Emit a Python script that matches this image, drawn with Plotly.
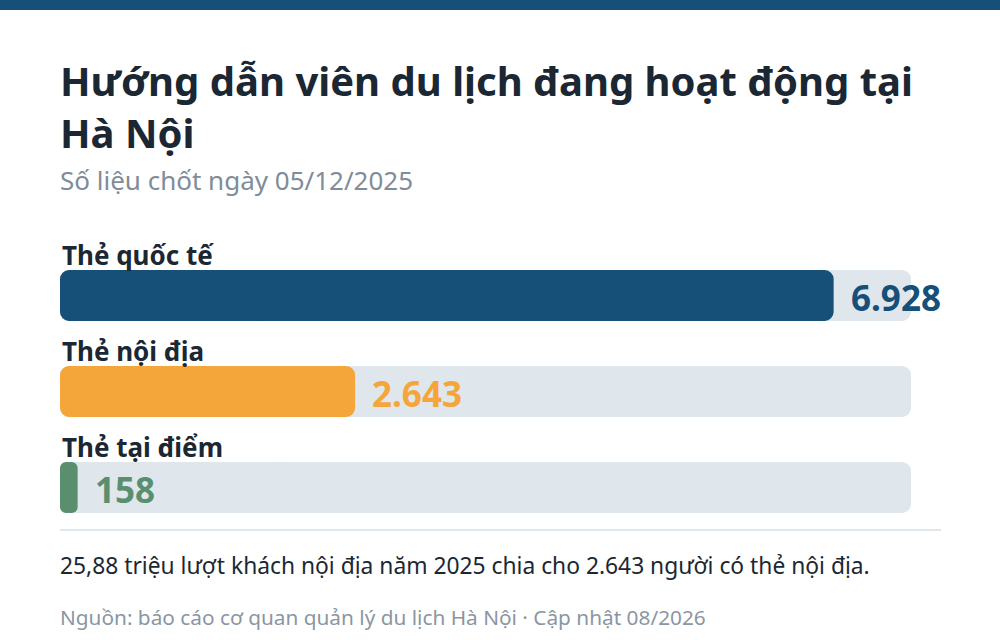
import plotly.graph_objects as go

# --------------------- data ---------------------------------------
categories = ['Thẻ quốc tế', 'Thẻ nội địa', 'Thẻ tại điểm']
values = [6928, 2643, 158]
value_labels = ['6.928', '2.643', '158']
bar_colors = ['#164f78', '#f4a63b', '#5a8f6e']

title_text = 'Hướng dẫn viên du lịch đang hoạt động tại<br>Hà Nội'
subtitle_text = 'Số liệu chốt ngày 05/12/2025'
note_text = '25,88 triệu lượt khách nội địa năm 2025 chia cho 2.643 người có thẻ nội địa.'
source_text = 'Nguồn: báo cáo cơ quan quản lý du lịch Hà Nội · Cập nhật 08/2026'

W, H = 1000, 640
FONT = 'Noto Sans'
track_max = max(values) * 1.1
BAR_W = 0.53
RADIUS = 9


def py(px):
    # pixel from top -> paper y
    return 1 - px / H


def px_x(px):
    return px / W


def rounded_bar(vals, color, hover):
    # plotly only rounds the far end of a bar, so each bar is drawn as two
    # overlapping pieces: one growing left (rounded left end), one growing right
    left = go.Bar(y=categories, x=[-0.75 * v for v in vals], base=[0.75 * v for v in vals],
                  orientation='h', marker=dict(color=color, cornerradius=RADIUS, line=dict(width=0)),
                  width=BAR_W, hoverinfo='skip')
    right = go.Bar(y=categories, x=[0.75 * v for v in vals], base=[0.25 * v for v in vals],
                   orientation='h', marker=dict(color=color, cornerradius=RADIUS, line=dict(width=0)),
                   width=BAR_W, hoverinfo=hover)
    return [left, right]


traces = rounded_bar([track_max] * len(categories), '#dfe6ec', 'skip') + rounded_bar(values, bar_colors, 'skip')

annotations = []
# category labels above bars + value labels after bar end
for cat, val, lab, col in zip(categories, values, value_labels, bar_colors):
    annotations.append(dict(x=0, y=cat, xref='x', yref='y', text='<b>%s</b>' % cat,
                            showarrow=False, xanchor='left', yanchor='middle', yshift=41,
                            font=dict(family=FONT, size=26, color='#1b2733')))
    annotations.append(dict(x=val, y=cat, xref='x', yref='y', text='<b>%s</b>' % lab,
                            showarrow=False, xanchor='left', yanchor='middle', xshift=15, yshift=-2,
                            font=dict(family=FONT, size=35, color=col)))

# title, subtitle, note, source
annotations += [
    dict(x=px_x(58), y=py(51), xref='paper', yref='paper', text='<b>%s</b>' % title_text,
         showarrow=False, xanchor='left', yanchor='top', align='left',
         font=dict(family=FONT, size=40, color='#1b2733')),
    dict(x=px_x(58), y=py(180), xref='paper', yref='paper', text=subtitle_text,
         showarrow=False, xanchor='left', yanchor='middle',
         font=dict(family=FONT, size=26, color='#7f8c99')),
    dict(x=px_x(58), y=py(565), xref='paper', yref='paper', text=note_text,
         showarrow=False, xanchor='left', yanchor='middle',
         font=dict(family=FONT, size=22.8, color='#1b2733')),
    dict(x=px_x(58), y=py(617), xref='paper', yref='paper', text=source_text,
         showarrow=False, xanchor='left', yanchor='middle',
         font=dict(family=FONT, size=20.8, color='#8a96a3')),
]

shapes = [
    # top band
    dict(type='rect', xref='paper', yref='paper', x0=0, x1=1, y0=py(10), y1=1,
         fillcolor='#164f78', line=dict(width=0), layer='below'),
    # divider
    dict(type='line', xref='paper', yref='paper', x0=px_x(60), x1=px_x(941), y0=py(530), y1=py(530),
         line=dict(color='#dfe6ec', width=2)),
]

axis_off = dict(showgrid=False, zeroline=False, showticklabels=False, showline=False, ticks='')

layout = go.Layout(width=W,
                   height=H,
                   margin=dict(l=0, r=0, t=0, b=0),
                   paper_bgcolor='white',
                   plot_bgcolor='white',
                   showlegend=False,
                   barmode='overlay',
                   xaxis=dict(axis_off, range=[0, track_max], domain=[px_x(60), px_x(911)], fixedrange=True),
                   yaxis=dict(axis_off, type='category', categoryorder='array', categoryarray=categories,
                              range=[2.5, -0.5], domain=[py(535.5), py(247.5)], fixedrange=True),
                   annotations=annotations,
                   shapes=shapes,
                   font=dict(family=FONT))

fig = go.Figure(data=traces, layout=layout)
fig.write_html("out.html", config={'displayModeBar': False},
               post_script="document.body.style.margin='0';")
